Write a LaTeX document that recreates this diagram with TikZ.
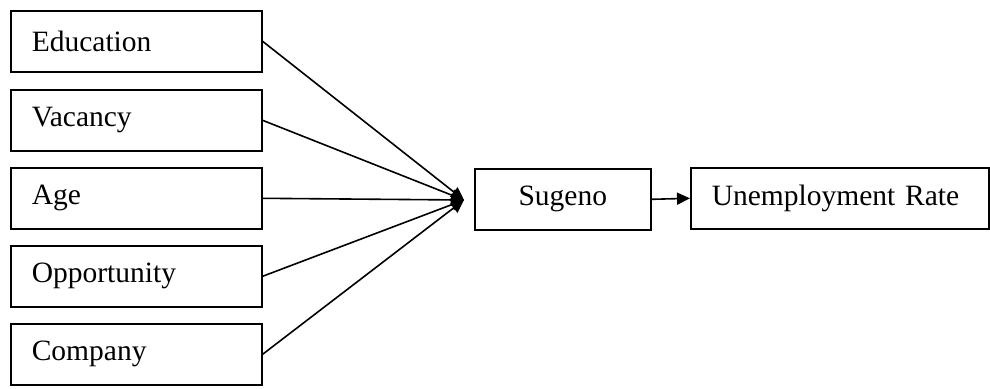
\documentclass[tikz,border=0pt]{standalone}
\usepackage{fontspec}
\setmainfont{Liberation Serif}
\usetikzlibrary{arrows.meta,calc}
\begin{document}
\begin{tikzpicture}[x=1pt,y=-1pt,
  inbox/.style={draw,line width=1.6pt,anchor=north west,inner xsep=21pt,inner ysep=0pt,
    text width=209pt,minimum height=61pt,align=left,font=\fontsize{29.5}{34}\selectfont},
  conn/.style={line width=1.6pt,-{Triangle[length=13pt,width=12pt]}}]
\useasboundingbox (0,0) rectangle (990,388);
\node[inbox] (edu) at (10,10) {Education};
\node[inbox] (vac) at (10,89) {Vacancy};
\node[inbox] (age) at (10,167) {Age};
\node[inbox] (opp) at (10,245) {Opportunity};
\node[inbox] (com) at (10,323) {Company};
\coordinate (hub) at (464,200);
\node[draw,line width=1.6pt,anchor=north west,minimum width=176pt,minimum height=61pt,
  font=\fontsize{29.5}{34}\selectfont] (sug) at (474,168) {Sugeno};
\node[draw,line width=1.6pt,anchor=north west,inner xsep=21pt,text width=256pt,
  minimum height=61pt,align=left,font=\fontsize{29.5}{34}\selectfont] (unemp) at (690,167) {Unemployment Rate};
\foreach \n in {edu,vac,age,opp,com}
  \draw[conn] (\n.east) -- (hub);
\draw[conn] (sug.east) -- (unemp.west);
\end{tikzpicture}
\end{document}
